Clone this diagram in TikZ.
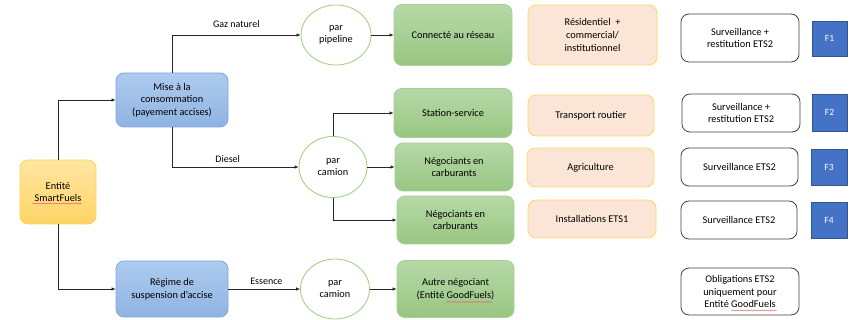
\documentclass[tikz,border=0pt]{standalone}
\usepackage{fontspec}
\setmainfont{Carlito}
\usetikzlibrary{arrows.meta,decorations.pathmorphing,shapes.geometric}
\definecolor{orfillT}{HTML}{FFE6A3}
\definecolor{orfillB}{HTML}{FFD466}
\definecolor{ordraw}{HTML}{FFD35C}
\definecolor{bluT}{HTML}{ADCBEE}
\definecolor{bluB}{HTML}{8FB3E2}
\definecolor{bludraw}{HTML}{7FA7DC}
\definecolor{grnT}{HTML}{B6D9A7}
\definecolor{grnB}{HTML}{98C682}
\definecolor{grndraw}{HTML}{A6CF93}
\definecolor{circdraw}{HTML}{9BCF7A}
\definecolor{peach}{HTML}{FBE5D6}
\definecolor{peachdraw}{HTML}{FFD966}
\definecolor{fblue}{HTML}{4472C4}
\definecolor{fbluedraw}{HTML}{2F5597}
\definecolor{squigred}{HTML}{E06666}
\tikzset{
  base/.style={rounded corners=8pt, align=center, inner sep=1pt, font=\fontsize{10.3}{12.6}\selectfont, line width=0.8pt},
  orbox/.style={base, draw=ordraw, top color=orfillT, bottom color=orfillB},
  blubox/.style={base, draw=bludraw, top color=bluT, bottom color=bluB},
  grnbox/.style={base, draw=grndraw, top color=grnT, bottom color=grnB},
  pchbox/.style={base, draw=peachdraw, fill=peach},
  whtbox/.style={base, draw=black!75, fill=white},
  fbox/.style={draw=fbluedraw, fill=fblue, text=white, inner sep=0pt, font=\fontsize{9.5}{11}\selectfont, line width=0.5pt},
  circ/.style={ellipse, draw=circdraw, fill=white, inner sep=0pt, align=center, font=\fontsize{10.3}{12.6}\selectfont, line width=0.8pt},
  conn/.style={draw=black!85, line width=0.7pt, -{Latex[length=4pt,width=3.5pt]}},
  lbl/.style={font=\fontsize{10}{12}\selectfont, inner sep=0pt},
  squig/.style={draw=squigred, line width=0.4pt, decorate, decoration={snake, amplitude=0.5pt, segment length=2.2pt}}
}
\begin{document}
\begin{tikzpicture}[x=1pt,y=-1pt]
\useasboundingbox (0,0) rectangle (856,320);
% left column
\node[orbox, minimum width=76pt, minimum height=64pt] (sf) at (58,192) {Entité\\SmartFuels};
\node[blubox, minimum width=112pt, minimum height=54pt] (mise) at (172,100) {Mise à la\\consommation\\(payement accises)};
\node[blubox, minimum width=112pt, minimum height=56pt] (reg) at (172,289) {Régime de\\suspension d’accise};
% circles
\node[circ, minimum width=70pt, minimum height=60pt] (pipe) at (336,35) {par\\pipeline};
\node[circ, minimum width=68pt, minimum height=61pt] (cam1) at (333,167) {par\\camion};
\node[circ, minimum width=69pt, minimum height=60pt] (cam2) at (335,289) {par\\camion};
% green boxes
\node[grnbox, minimum width=118pt, minimum height=61pt] (conn) at (453,35) {Connecté au réseau};
\node[grnbox, minimum width=118pt, minimum height=49pt] (stat) at (453,113) {Station-service};
\node[grnbox, minimum width=118pt, minimum height=48pt] (neg1) at (454,167) {Négociants en\\carburants};
\node[grnbox, minimum width=117pt, minimum height=48pt] (neg2) at (455.5,220) {Négociants en\\carburants};
\node[grnbox, minimum width=117pt, minimum height=57pt] (autre) at (455.5,289) {Autre négociant\\(Entité GoodFuels)};
% peach boxes
\node[pchbox, minimum width=129pt, minimum height=60pt] (res) at (592.5,35) {Résidentiel\ \ +\\commercial/\\institutionnel};
\node[pchbox, minimum width=126pt, minimum height=41pt] (tr) at (591,115.5) {Transport routier};
\node[pchbox, minimum width=127pt, minimum height=39pt] (agr) at (590.5,167.5) {Agriculture};
\node[pchbox, minimum width=128pt, minimum height=38pt] (ins) at (592,219) {Installations ETS1};
% white boxes
\node[whtbox, minimum width=118pt, minimum height=48pt] (w1) at (740,38) {Surveillance +\\restitution ETS2};
\node[whtbox, minimum width=118pt, minimum height=38pt] (w2) at (741,113) {Surveillance +\\restitution ETS2};
\node[whtbox, minimum width=117pt, minimum height=38pt] (w3) at (739.5,167) {Surveillance ETS2};
\node[whtbox, minimum width=116pt, minimum height=38pt] (w4) at (739,220) {Surveillance ETS2};
\node[whtbox, minimum width=118pt, minimum height=47pt] (w5) at (740,291.5) {Obligations ETS2\\uniquement pour\\Entité GoodFuels};
% F boxes
\node[fbox, minimum width=35pt, minimum height=35pt] (f1) at (829.5,38.5) {F1};
\node[fbox, minimum width=35pt, minimum height=37pt] (f2) at (829.5,112.5) {F2};
\node[fbox, minimum width=36pt, minimum height=36pt] (f3) at (829,167) {F3};
\node[fbox, minimum width=36pt, minimum height=36pt] (f4) at (829,220) {F4};
% connectors
\draw[conn] (sf.north) |- (mise.west);
\draw[conn] (sf.south) |- (reg.west);
\draw[conn] (mise.north) |- (pipe.west) node[lbl, pos=0.75, above=7pt] {Gaz naturel};
\draw[conn] (mise.south) |- (cam1.west) node[lbl, pos=0.72, above=4pt] {Diesel};
\draw[conn] (reg.east) -- (cam2.west) node[lbl, pos=0.53, above=4pt] {Essence};
\draw[conn] (pipe.east) -- (conn.west);
\draw[conn] (cam1.north) |- (stat.west);
\draw[conn] (cam1.east) -- (neg1.west);
\draw[conn] (cam1.south) |- (neg2.west);
\draw[conn] (cam2.east) -- (autre.west);
% spell-check underlines
\draw[squig] (32,203.5) -- (82,203.5);
\draw[squig] (446,302) -- (493,302);
\draw[squig] (731,310.5) -- (777,310.5);
\end{tikzpicture}
\end{document}
